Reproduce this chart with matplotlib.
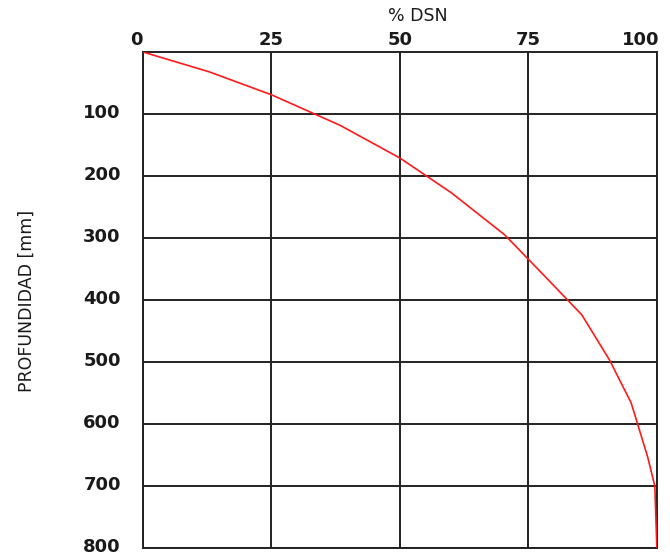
import matplotlib
matplotlib.use("Agg")
import matplotlib.pyplot as plt
import matplotlib.transforms as mtransforms

# Curve: % DSN against depth in mm
dsn_pct = [0, 12.9, 25, 38.3, 50, 60, 70.4, 78, 85.4, 90.8, 95, 98.2, 99.6, 100]
depth_mm = [0, 32, 69, 118, 171, 227, 295, 360, 424, 497, 566, 653, 700, 800]

x_ticks = [0, 25, 50, 75, 100]
y_ticks = [100, 200, 300, 400, 500, 600, 700, 800]

fig = plt.figure(figsize=(6.70, 5.57), dpi=100)
ax = fig.add_axes([0.2134, 0.0162, 0.767, 0.8904])

ax.plot(dsn_pct, depth_mm, color="#ff1a1a", linewidth=1.2, zorder=3)

ax.set_xlim(0, 100)
ax.set_ylim(800, 0)
ax.xaxis.tick_top()
ax.set_xticks(x_ticks)
ax.set_yticks(y_ticks)

tick_font = dict(family="DejaVu Sans", size=13, weight="bold", color="#1a1a1a")
ax.set_xticklabels([str(v) for v in x_ticks], **tick_font)
ax.set_yticklabels([str(v) for v in y_ticks], **tick_font)
ax.tick_params(axis="x", length=0, pad=2)
ax.tick_params(axis="y", length=0, pad=16)

# the end labels sit inside the frame, as in the original
xl = ax.get_xticklabels()
xl[0].set_transform(xl[0].get_transform() +
                    mtransforms.ScaledTranslation(-0.07, 0, fig.dpi_scale_trans))
xl[-1].set_transform(xl[-1].get_transform() +
                     mtransforms.ScaledTranslation(-0.16, 0, fig.dpi_scale_trans))
# depth labels sit a touch above their lines
for lab in ax.get_yticklabels():
    lab.set_transform(lab.get_transform() +
                      mtransforms.ScaledTranslation(0, 0.03, fig.dpi_scale_trans))

ax.grid(True, color="#222222", linewidth=1.4)
ax.set_axisbelow(True)
for s in ax.spines.values():
    s.set_color("#222222")
    s.set_linewidth(1.4)

fig.text(0.624, 0.972, "% DSN", ha="center", va="center",
         family="DejaVu Sans", fontsize=12.5, color="#1a1a1a")
fig.text(0.04, 0.46, "PROFUNDIDAD [mm]", ha="center", va="center",
         rotation=90, family=["Liberation Sans Narrow", "DejaVu Sans"],
         fontsize=12.5, color="#1a1a1a")

fig.savefig("out.png", dpi=100)
